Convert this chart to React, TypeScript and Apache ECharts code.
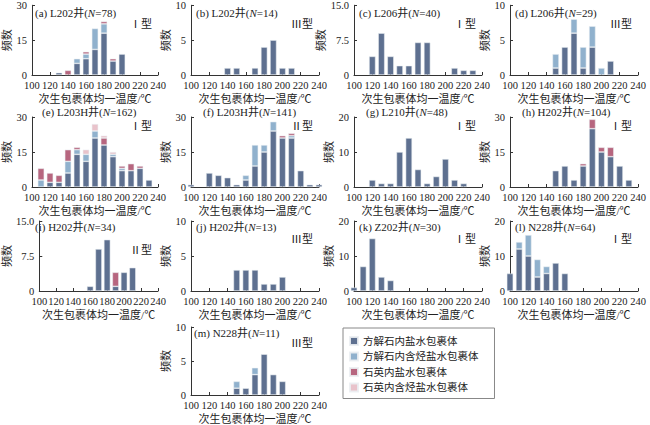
import React, { useEffect, useRef } from "react";
import * as echarts from "echarts";

// Bin centres (°C) and axis ticks
const bins = ["100", "110", "120", "130", "140", "150", "160", "170", "180", "190", "200", "210", "220", "230", "240"];
const seriesNames = ["方解石内盐水包裹体", "方解石内含烃盐水包裹体", "石英内盐水包裹体", "石英内含烃盐水包裹体"];
const colors = ["#5e7090", "#90b1cd", "#b7667f", "#e9c3cb"];
const xAxisName = "次生包裹体均一温度/℃";
const yAxisName = "频数";

// (a) L202
const aCal = [0, 0, 0, 1, 0, 5, 7, 11, 18, 6, 9, 0, 0, 0, 0];
const aCalHc = [0, 0, 0, 0, 0, 2, 2, 9, 4, 0, 0, 0, 0, 0, 0];
const aQz = [0, 0, 0, 0, 2, 0, 1, 0, 1, 1, 0, 0, 0, 0, 0];
// (b) L202
const bCal = [0, 0, 0, 0, 1, 1, 0, 1, 4, 5, 1, 1, 0, 0, 0];
// (c) L206
const cCal = [0, 0, 4, 9, 4, 2, 2, 7, 7, 0, 0, 1.5, 1, 1, 0];
// (d) L206
const dCal = [0, 0, 0, 0, 0, 1, 4, 6, 1, 4, 0, 2, 0, 0, 0];
const dCalHc = [0, 0, 0, 0, 0, 2, 0, 2, 3, 3, 1, 0, 0, 0, 0];
// (e) L203H
const eCal = [0, 0, 2, 2, 6, 14, 11, 21, 18, 13, 7, 7, 8, 3, 0];
const eCalHc = [0, 3, 0, 0, 5, 2, 3, 3, 0, 1, 1, 0, 0, 0, 0];
const eQz = [0, 5, 4, 3, 5, 1, 0, 0, 3, 0, 1, 3, 1, 0, 0];
const eQzHc = [0, 0, 0, 0, 0, 0, 2, 3, 1, 1, 0, 0, 0, 0, 0];
// (f) L203H
const fCal = [1, 0, 6, 5, 4, 1, 3, 9, 15, 24, 21, 21, 7, 1, 1];
const fCalHc = [0, 0, 0, 0, 0, 0, 2, 9, 3, 4, 0, 1, 0, 0, 0];
const fQz = [0, 0, 0, 0, 0, 0, 0, 0, 0, 0, 1, 1, 0, 0, 0];
// (g) L210
const gCal = [0, 0, 2, 1, 1, 10, 14, 5, 1, 3, 8, 2, 1, 0, 0];
// (h) H202
const hCal = [0, 0, 0, 0, 0, 7, 9, 3, 9, 25, 15, 13, 9, 3, 0];
const hQz = [0, 0, 0, 0, 0, 0, 0, 0, 1, 4, 2, 4, 0, 0, 0];
// (i) H202
const iCal = [0, 0, 0, 0, 0, 0, 1, 9, 11, 1, 4, 5, 0, 0, 0];
const iQz = [0, 0, 0, 0, 0, 0, 0, 0, 0, 3, 0, 0, 0, 0, 0];
// (j) H202
const jCal = [0, 0, 0, 0, 0, 3, 3, 3, 1, 1, 2, 0, 0, 0, 0];
// (k) Z202
const kCal = [1, 7, 15, 4, 3, 0, 0, 0, 0, 0, 0, 0, 0, 0, 0];
// (l) N228
const lCal = [5, 12, 10, 4, 5, 8, 5, 0, 0, 0, 0, 0, 0, 0, 0];
const lCalHc = [0, 2, 6, 5, 2, 0, 0, 0, 0, 0, 0, 0, 0, 0, 0];
// (m) N228
const mCal = [0, 0, 0, 0, 0, 1, 1, 3, 6, 3, 2, 0, 0, 0, 0];
const mCalHc = [0, 0, 0, 0, 0, 1, 0, 1, 0, 0, 0, 0, 0, 0, 0];

type Panel = {
  tag: string; well: string; n: number; type: string; max: number; interval: number;
  col: number; row: number; data: (number[] | null)[]; typeDy?: number;
};

const panels: Panel[] = [
  { tag: "a", well: "L202井", n: 78, type: "Ⅰ型", max: 30, interval: 15, col: 0, row: 0, data: [aCal, aCalHc, aQz, null] },
  { tag: "b", well: "L202井", n: 14, type: "Ⅲ型", max: 10, interval: 5, col: 1, row: 0, data: [bCal, null, null, null] },
  { tag: "c", well: "L206井", n: 40, type: "Ⅰ型", max: 15, interval: 7.5, col: 2, row: 0, data: [cCal, null, null, null] },
  { tag: "d", well: "L206井", n: 29, type: "Ⅲ型", max: 10, interval: 5, col: 3, row: 0, data: [dCal, dCalHc, null, null] },
  { tag: "e", well: "L203H井", n: 162, type: "Ⅰ型", max: 30, interval: 15, col: 0, row: 1, data: [eCal, eCalHc, eQz, eQzHc] },
  { tag: "f", well: "L203H井", n: 141, type: "Ⅱ型", max: 30, interval: 15, col: 1, row: 1, data: [fCal, fCalHc, fQz, null] },
  { tag: "g", well: "L210井", n: 48, type: "Ⅰ型", max: 20, interval: 10, col: 2, row: 1, data: [gCal, null, null, null] },
  { tag: "h", well: "H202井", n: 104, type: "Ⅰ型", max: 30, interval: 15, col: 3, row: 1, data: [hCal, null, hQz, null] },
  { tag: "i", well: "H202井", n: 34, type: "Ⅱ型", max: 15, interval: 7.5, col: 0, row: 2, data: [iCal, null, iQz, null], typeDy: 29 },
  { tag: "j", well: "H202井", n: 13, type: "Ⅲ型", max: 10, interval: 5, col: 1, row: 2, data: [jCal, null, null, null] },
  { tag: "k", well: "Z202井", n: 30, type: "Ⅰ型", max: 20, interval: 10, col: 2, row: 2, data: [kCal, null, null, null] },
  { tag: "l", well: "N228井", n: 64, type: "Ⅰ型", max: 20, interval: 10, col: 3, row: 2, data: [lCal, lCalHc, null, null] },
  { tag: "m", well: "N228井", n: 11, type: "Ⅲ型", max: 10, interval: 5, col: 1, row: 3, data: [mCal, mCalHc, null, null] },
];

// layout
const colLeft = [30, 191, 354, 510];
const rowTop = [5, 117, 221, 327];
const W = 128;
const H = 70;
const titleDy = [8, -5, 6, 6];
const titleDx = [5, 12, 5, 3];
const typeDyRow = [19, 9, 18, 16];
const FONT = "Liberation Serif, Times New Roman, Noto Sans CJK SC, serif";
const INK = "#222";

export default function App() {
  const ref = useRef<HTMLDivElement>(null);
  useEffect(() => {
    if (!ref.current) return;
    const chart = echarts.init(ref.current, null, { renderer: "svg" });
    const grid: any[] = [];
    const xAxis: any[] = [];
    const yAxis: any[] = [];
    const series: any[] = [];
    const graphic: any[] = [];
    panels.forEach((p, i) => {
      const left = colLeft[p.col];
      const top = rowTop[p.row];
      grid.push({ left, top, width: W, height: H });
      xAxis.push({
        type: "category", gridIndex: i, data: bins, boundaryGap: false,
        axisLine: { show: true, lineStyle: { color: "#333", width: 1 } },
        axisTick: { show: true, inside: true, length: 3, interval: 1, lineStyle: { color: "#333" } },
        splitLine: { show: false },
        axisLabel: { fontSize: 10.5, color: INK, margin: 5, fontFamily: FONT, interval: 1 },
        name: xAxisName, nameLocation: "middle", nameGap: 18,
        nameTextStyle: { fontSize: 11, color: INK, fontFamily: FONT },
      });
      yAxis.push({
        type: "value", gridIndex: i, min: 0, max: p.max, interval: p.interval,
        axisLine: { show: true, lineStyle: { color: "#333", width: 1 } },
        axisTick: { show: true, inside: true, length: 3, lineStyle: { color: "#333" } },
        splitLine: { show: false },
        axisLabel: {
          fontSize: 10.5, color: INK, margin: 5, fontFamily: FONT,
          formatter: (v: number) => (v === 0 ? "0" : p.interval % 1 ? v.toFixed(1) : String(v)),
        },
        name: yAxisName, nameLocation: "middle", nameGap: 20, nameRotate: 90,
        nameTextStyle: { fontSize: 11, color: INK, fontFamily: FONT },
      });
      p.data.forEach((arr, k) => {
        if (!arr) return;
        series.push({
          type: "bar", name: seriesNames[k], xAxisIndex: i, yAxisIndex: i, stack: "s" + i,
          barWidth: 6.5, clip: false, silent: true,
          itemStyle: { color: colors[k], borderColor: "rgba(235,238,242,0.9)", borderWidth: 0.6 },
          data: arr.map((v) => (v ? v : "-")),
        });
      });
      graphic.push({
        type: "text", x: left + titleDx[p.row], y: top + titleDy[p.row], silent: true,
        style: {
          text: `{t|(${p.tag}) ${p.well}(}{i|N}{t|=${p.n})}`,
          verticalAlign: "middle", align: "left",
          rich: {
            t: { fontSize: 11, fontFamily: FONT, fill: INK },
            i: { fontSize: 11, fontFamily: FONT, fill: INK, fontStyle: "italic" },
          },
        },
      });
      graphic.push({
        type: "text", x: left + W - 6, y: top + (p.typeDy ?? typeDyRow[p.row]), silent: true,
        style: {
          text: p.type, align: "right", verticalAlign: "middle",
          fontSize: 11, fontFamily: FONT, fill: INK,
        },
      });
    });
    chart.setOption({
      animation: false,
      backgroundColor: "#fff",
      grid, xAxis, yAxis, series, graphic,
      legend: {
        data: seriesNames, orient: "vertical", left: 343, top: 328,
        itemWidth: 8, itemHeight: 8, itemGap: 3.5, icon: "rect",
        borderColor: "#888", borderWidth: 1, padding: [7, 16, 5, 6],
        selectedMode: false,
        textStyle: { fontSize: 10.5, fontFamily: FONT, color: INK, lineHeight: 12 },
      },
    });
    return () => chart.dispose();
  }, []);
  return <div ref={ref} style={{ position: "fixed", left: 0, top: 0, width: 650, height: 425 }} />;
}
